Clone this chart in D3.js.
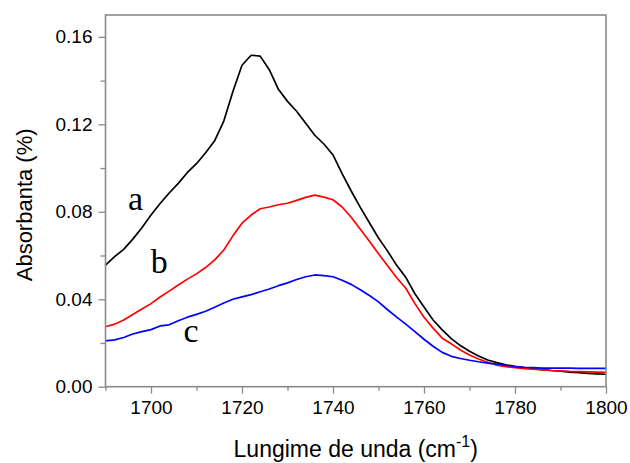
<!DOCTYPE html>
<html>
<head>
<meta charset="utf-8">
<script src="https://cdn.jsdelivr.net/npm/d3@7"></script>
<style>
  html, body { margin: 0; padding: 0; background: #fff; }
  svg { display: block; }
</style>
</head>
<body>
<svg id="chart" width="630" height="463"></svg>
<script>
// ---- data ----
const wavenumber = [1690,1692,1694,1696,1698,1700,1702,1704,1706,1708,1710,1712,1714,1716,1718,1720,1722,1724,1726,1728,1730,1732,1734,1736,1738,1740,1742,1744,1746,1748,1750,1752,1754,1756,1758,1760,1762,1764,1766,1768,1770,1772,1774,1776,1778,1780,1782,1784,1786,1788,1790,1792,1794,1796,1798,1800];
const seriesA = [0.0556,0.0595,0.0628,0.0675,0.0727,0.0785,0.0838,0.0886,0.0930,0.0980,0.1020,0.1070,0.1125,0.1215,0.1350,0.1470,0.1516,0.1512,0.1450,0.1360,0.1305,0.1260,0.1205,0.1150,0.1110,0.1060,0.0975,0.0895,0.0820,0.0750,0.0680,0.0620,0.0555,0.0500,0.0425,0.0365,0.0305,0.0260,0.0220,0.0188,0.0162,0.0140,0.0122,0.0110,0.0100,0.0093,0.0087,0.0082,0.0078,0.0074,0.0071,0.0067,0.0064,0.0061,0.0059,0.0057];
const seriesB = [0.0274,0.0286,0.0305,0.0330,0.0355,0.0380,0.0410,0.0437,0.0465,0.0492,0.0516,0.0545,0.0580,0.0625,0.0690,0.0748,0.0785,0.0814,0.0822,0.0832,0.0839,0.0852,0.0866,0.0876,0.0867,0.0855,0.0822,0.0775,0.0720,0.0665,0.0608,0.0553,0.0498,0.0450,0.0380,0.0318,0.0268,0.0222,0.0196,0.0168,0.0145,0.0127,0.0112,0.0098,0.0092,0.0087,0.0083,0.0080,0.0077,0.0074,0.0072,0.0070,0.0069,0.0068,0.0067,0.0066];
const seriesC = [0.0210,0.0214,0.0225,0.0241,0.0252,0.0261,0.0278,0.0283,0.0302,0.0318,0.0331,0.0345,0.0363,0.0383,0.0400,0.0411,0.0421,0.0434,0.0447,0.0462,0.0475,0.0490,0.0503,0.0511,0.0508,0.0503,0.0487,0.0468,0.0443,0.0417,0.0388,0.0352,0.0318,0.0286,0.0252,0.0217,0.0185,0.0157,0.0139,0.0129,0.0121,0.0114,0.0108,0.0103,0.0097,0.0092,0.0089,0.0087,0.0085,0.0085,0.0085,0.0085,0.0084,0.0084,0.0084,0.0084];
const seriesNames = ["a", "b", "c"];
const seriesColors = ["#000000", "#ff0000", "#0000ff"];
// label anchor positions in data units (wavenumber, absorbance)
const labelPos = [[1696.6, 0.0806], [1701.8, 0.0518], [1708.8, 0.0206]];
const xTicks = [1700, 1720, 1740, 1760, 1780, 1800];
const yTicks = [0.00, 0.04, 0.08, 0.12, 0.16];
const xMinor = [1690, 1710, 1730, 1750, 1770, 1790];
const yMinor = [0.02, 0.06, 0.10, 0.14];

// ---- layout ----
const svg = d3.select("#chart");
const L = 105.5, R = 606, T = 15, B = 386.7;
const x = d3.scaleLinear().domain([1690, 1800]).range([L, R]);
const y = d3.scaleLinear().domain([0, 0.17]).range([B, T]);
const frameColor = "#8a8a8a";
const sans = "'Liberation Sans', Arial, sans-serif";

svg.append("rect").attr("width", 630).attr("height", 463).attr("fill", "#fff");

// minor ticks
const gx = svg.append("g").attr("transform", `translate(0,${B})`)
  .call(d3.axisBottom(x).tickValues(xMinor).tickSize(4).tickFormat(""));
const gy = svg.append("g").attr("transform", `translate(${L},0)`)
  .call(d3.axisLeft(y).tickValues(yMinor).tickSize(5).tickFormat(""));
[gx, gy].forEach(g => { g.select(".domain").remove(); g.selectAll("line").attr("stroke", frameColor).attr("stroke-width", 1.3); });

// major ticks
const gxM = svg.append("g").attr("transform", `translate(0,${B})`)
  .call(d3.axisBottom(x).tickValues(xTicks).tickSize(7).tickPadding(7).tickFormat(d3.format("d")));
const gyM = svg.append("g").attr("transform", `translate(${L},0)`)
  .call(d3.axisLeft(y).tickValues(yTicks).tickSize(7).tickPadding(6).tickFormat(d3.format(".2f")));
[gxM, gyM].forEach(g => {
  g.select(".domain").remove();
  g.selectAll("line").attr("stroke", frameColor).attr("stroke-width", 1.3);
  g.selectAll("text").attr("fill", "#000").style("font-family", sans).style("font-size", "19px");
});

// curves
const series = [seriesA, seriesB, seriesC];
const line = d3.line().x((d, i) => x(wavenumber[i])).y(d => y(d));
series.forEach((s, k) => {
  svg.append("path").datum(s)
    .attr("d", line)
    .attr("fill", "none")
    .attr("stroke", seriesColors[k])
    .attr("stroke-width", 1.7)
    .attr("stroke-linejoin", "round");
});

// frame
svg.append("rect").attr("x", L).attr("y", T).attr("width", R - L).attr("height", B - T)
  .attr("fill", "none").attr("stroke", frameColor).attr("stroke-width", 1.6);

// series labels
seriesNames.forEach((n, k) => {
  svg.append("text")
    .attr("x", x(labelPos[k][0])).attr("y", y(labelPos[k][1]))
    .attr("text-anchor", "middle")
    .style("font-family", "'Liberation Serif', 'Times New Roman', serif")
    .style("font-size", "34px")
    .attr("fill", "#000")
    .text(n);
});

// axis titles
svg.append("text")
  .attr("transform", `translate(32,${(T + B) / 2 + 4}) rotate(-90)`)
  .attr("text-anchor", "middle")
  .style("font-family", sans).style("font-size", "22px")
  .attr("fill", "#000")
  .text("Absorbanta (%)");

const xt = svg.append("text")
  .attr("x", (L + R) / 2).attr("y", 457)
  .attr("text-anchor", "middle")
  .style("font-family", sans).style("font-size", "23px")
  .attr("fill", "#000");
xt.append("tspan").text("Lungime de unda (cm");
xt.append("tspan").attr("dy", -10).style("font-size", "16px").text("-1");
xt.append("tspan").attr("dy", 10).text(")");
</script>
</body>
</html>
